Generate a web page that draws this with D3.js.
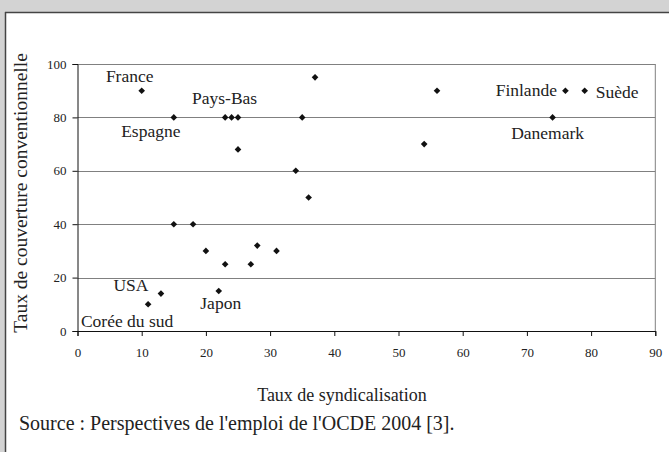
<!DOCTYPE html>
<html>
<head>
<meta charset="utf-8">
<script src="https://cdn.jsdelivr.net/npm/d3@7"></script>
<style>
  body { margin: 0; background: white; overflow: hidden; }
  svg { display: block; }
  text { font-family: "Liberation Serif", "Times New Roman", serif; fill: #222; }
</style>
</head>
<body>
<svg id="chart" width="669" height="452"></svg>
<script>
// taux de syndicalisation (x) et taux de couverture (y), un point par pays
var syndicalisation = [10, 15, 23, 24, 25, 35, 37, 56, 25, 54, 34, 36, 15, 18, 20, 23, 27, 28, 31, 22, 13, 11, 76, 79, 74];
var couverture      = [90, 80, 80, 80, 80, 80, 95, 90, 68, 70, 60, 50, 40, 40, 30, 25, 25, 32, 30, 15, 14, 10, 90, 90, 80];
var pays            = ["France", "Espagne", "", "Pays-Bas", "", "", "", "", "", "", "", "", "", "", "", "", "", "", "", "Japon", "USA", "Corée du sud", "Finlande", "Suède", "Danemark"];

var xTicks = [0, 10, 20, 30, 40, 50, 60, 70, 80, 90];
var yTicks = [0, 20, 40, 60, 80, 100];

var svg = d3.select("#chart");

// grey page background, white sheet with the dark frame top / left
svg.append("rect").attr("width", 669).attr("height", 452).attr("fill", "#d3d3d3");
svg.append("rect").attr("x", 5).attr("y", 12).attr("width", 664).attr("height", 440).attr("fill", "white");
svg.append("line").attr("x1", 5).attr("x2", 669).attr("y1", 12.5).attr("y2", 12.5).attr("stroke", "#444").attr("stroke-width", 1.5);
svg.append("line").attr("x1", 5.5).attr("x2", 5.5).attr("y1", 12).attr("y2", 452).attr("stroke", "#444").attr("stroke-width", 1.5);

var margin = { top: 64, left: 77.5, right: 669 - 655.3, bottom: 452 - 331 };
var width = 669 - margin.left - margin.right;
var height = 452 - margin.top - margin.bottom;

var x = d3.scaleLinear().domain([0, 90]).range([0, width]);
var y = d3.scaleLinear().domain([0, 100]).range([height, 0]);

var g = svg.append("g").attr("transform", "translate(" + margin.left + "," + margin.top + ")");

// gridlines
g.selectAll(".grid").data(yTicks.filter(d => d > 0)).enter()
  .append("line")
  .attr("x1", 0).attr("x2", width)
  .attr("y1", d => Math.round(y(d)) + 0.5).attr("y2", d => Math.round(y(d)) + 0.5)
  .attr("stroke", "#808080").attr("stroke-width", 1);

// right border of plot area
g.append("line")
  .attr("x1", width).attr("x2", width)
  .attr("y1", y(100)).attr("y2", y(0))
  .attr("stroke", "#808080");

// axes
var xAxis = g.append("g")
  .attr("transform", "translate(0," + height + ")")
  .call(d3.axisBottom(x).tickValues(xTicks).tickSize(5).tickPadding(12));
var yAxis = g.append("g")
  .call(d3.axisLeft(y).tickValues(yTicks).tickSize(5).tickPadding(6));

[xAxis, yAxis].forEach(function(a) {
  a.attr("font-family", null);
  a.select(".domain").attr("stroke", "#111");
  a.selectAll(".tick line").attr("stroke", "#111");
  a.selectAll("text")
    .style("font-family", "'Liberation Serif', serif")
    .style("font-size", "13px")
    .attr("fill", "#222");
});

// points
var pts = d3.range(syndicalisation.length);
g.selectAll(".pt").data(pts).enter()
  .append("path")
  .attr("class", "pt")
  .attr("d", d3.symbol().type(d3.symbolSquare).size(22))
  .attr("transform", i => "translate(" + x(syndicalisation[i]) + "," + y(couverture[i]) + ") rotate(45)")
  .attr("fill", "#111");

// label placement relative to its point (pixels)
var labelOffset = {
  "France":       { dx: -12,  dy: -9,  anchor: "middle" },
  "Espagne":      { dx: -23,  dy: 20,  anchor: "middle" },
  "Pays-Bas":     { dx: -7,   dy: -13, anchor: "middle" },
  "Japon":        { dx: 2,    dy: 18,  anchor: "middle" },
  "USA":          { dx: -30,  dy: -3,  anchor: "middle" },
  "Corée du sud": { dx: -21,  dy: 23,  anchor: "middle" },
  "Finlande":     { dx: -8.5, dy: 5,   anchor: "end" },
  "Suède":        { dx: 11,   dy: 7.5, anchor: "start" },
  "Danemark":     { dx: -5,   dy: 22,  anchor: "middle" }
};

g.selectAll(".lbl").data(pts.filter(i => pays[i] !== "")).enter()
  .append("text")
  .attr("class", "lbl")
  .attr("x", i => x(syndicalisation[i]) + labelOffset[pays[i]].dx)
  .attr("y", i => y(couverture[i]) + labelOffset[pays[i]].dy)
  .attr("text-anchor", i => labelOffset[pays[i]].anchor)
  .style("font-size", "17.5px")
  .text(i => pays[i]);

// axis titles
svg.append("text")
  .attr("x", 342).attr("y", 401)
  .attr("text-anchor", "middle")
  .style("font-size", "18px")
  .text("Taux de syndicalisation");

svg.append("text")
  .attr("transform", "translate(27,193) rotate(-90)")
  .attr("text-anchor", "middle")
  .style("font-size", "19.5px")
  .text("Taux de couverture conventionnelle");

// source
svg.append("text")
  .attr("x", 19).attr("y", 430)
  .style("font-size", "20px")
  .text("Source : Perspectives de l'emploi de l'OCDE 2004 [3].");
</script>
</body>
</html>
